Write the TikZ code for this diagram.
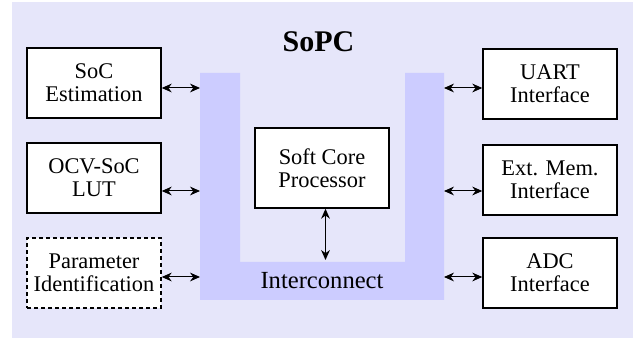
\documentclass[tikz,border=0pt]{standalone}
\usepackage{fontspec}
\setmainfont{Liberation Serif}
\usetikzlibrary{arrows.meta}
\definecolor{sopcbg}{HTML}{E6E6FA}
\definecolor{busfill}{HTML}{CCCCFF}

\begin{document}
\begin{tikzpicture}[x=0.5pt,y=-0.5pt,
    block/.style={draw,line width=0.75pt,fill=white,minimum width=67pt,minimum height=35pt,
      align=center,inner sep=1pt,font=\fontsize{11.2}{11.4}\selectfont},
    link/.style={{Stealth[length=5pt,width=4.4pt]}-{Stealth[length=5pt,width=4.4pt]},line width=0.5pt}]
	\useasboundingbox (0,0) rectangle (637,340);
	\fill[sopcbg] (12,2) rectangle (633,338);
	\fill[busfill] (200,73) -- (240,73) -- (240,262) -- (405,262) -- (405,73)
		-- (444,73) -- (444,300) -- (200,300) -- cycle;
	\node[anchor=base,font=\fontsize{15}{18}\selectfont\bfseries] (title) at (318.5,52) {SoPC};
	\node[anchor=base,font=\fontsize{12.3}{14}\selectfont] (bus) at (322,289) {Interconnect};
	\node[block] (soc) at (94,83) {SoC\\Estimation};
	\node[block] (lut) at (94,178) {OCV-SoC\\LUT};
	\node[block,dash pattern=on 2pt off 1.5pt] (param) at (94,273) {Parameter\\Identification};
	\node[block] (uart) at (550,84) {UART\\Interface};
	\node[block] (mem) at (550,180) {Ext. Mem.\\Interface};
	\node[block] (adc) at (550,273) {ADC\\Interface};
	\node[block,minimum height=40pt] (proc) at (322,168) {Soft Core\\Processor};
	\coordinate (l1) at (200,88);
	\coordinate (l2) at (200,191);
	\coordinate (l3) at (200,277);
	\coordinate (r1) at (444,88);
	\coordinate (r2) at (444,191);
	\coordinate (r3) at (444,277);
	\coordinate (bustop) at (322,260);
	\draw[link] (soc.east |- l1) -- (l1);
	\draw[link] (lut.east |- l2) -- (l2);
	\draw[link] (param.east |- l3) -- (l3);
	\draw[link] (r1) -- (uart.west |- r1);
	\draw[link] (r2) -- (mem.west |- r2);
	\draw[link] (r3) -- (adc.west |- r3);
	\draw[link,transform canvas={xshift=1.75pt}] (proc.south) -- (bustop);
\end{tikzpicture}
\end{document}
